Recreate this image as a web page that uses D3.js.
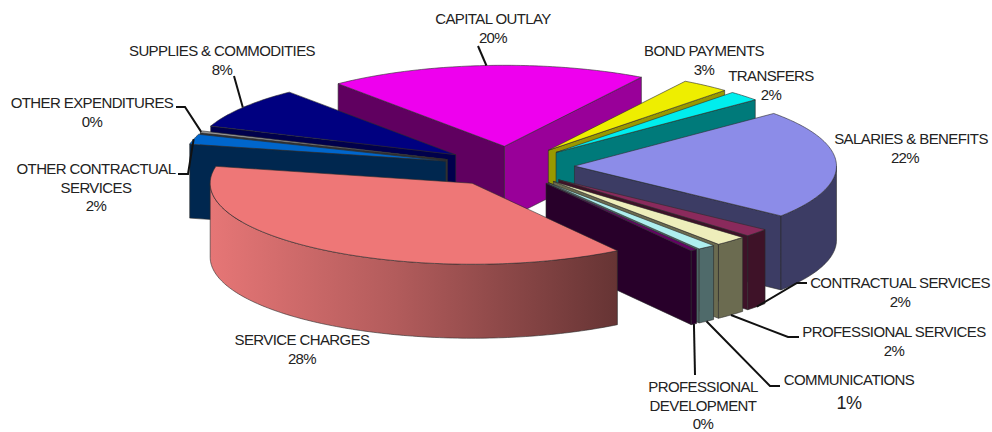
<!DOCTYPE html>
<html>
<head>
<meta charset="utf-8">
<title>Expenditures by category</title>
<script src="https://cdn.jsdelivr.net/npm/d3@7/dist/d3.min.js"></script>
<style>
  html, body { margin: 0; padding: 0; background: #fff; }
  svg { display: block; }
  text { font-family: "Liberation Sans", Arial, sans-serif; fill: #222; }
</style>
</head>
<body>
<svg id="chart" width="992" height="432"></svg>
<script>
// Budget shares in percent, clockwise from Salaries & Benefits.
const categories = ["SALARIES & BENEFITS", "CONTRACTUAL SERVICES", "PROFESSIONAL SERVICES", "COMMUNICATIONS",
  "PROFESSIONAL DEVELOPMENT", "SERVICE CHARGES", "OTHER CONTRACTUAL SERVICES", "OTHER EXPENDITURES",
  "SUPPLIES & COMMODITIES", "CAPITAL OUTLAY", "BOND PAYMENTS", "TRANSFERS"];
const shares = [21.8, 1.6, 2, 1.1, 0.4, 28, 2, 0.4, 8.3, 19.7, 3, 2];

// The printed shares total about 90%. The rest of the circle has no label of
// its own and is painted as part of the Service Charges wedge.
const unlabelledShare = 9.7;
const unlabelledJoins = "SERVICE CHARGES";

const topColors = ["#8c8ce8", "#8a2a5c", "#eeeebb", "#aeeeee", "#660066", "#ee7777", "#0066cc", "#9a9a9a", "#000080", "#ee00ee", "#eeee00", "#00eeee"];
const wallColors = ["#3c3c64", "#3e1228", "#6b6b50", "#4f6a6a", "#28002a", "#6b3535", "#00274f", "#333333", "#00004c", "#600060", "#6b6b00", "#006060"];
const endWallColors = ["#3c3c64", "#3e1228", "#6b6b50", "#4f6a6a", "#28002a", "#6b3535", "#002850", "#333333", "#00004c", "#990099", "#999900", "#007a7a"];
const serviceWallStops = [["0%", "#e67676"], ["45%", "#b35c5c"], ["100%", "#663434"]];

// Label text blocks: centre x, first baseline, wrapped name, leader path.
const labelLayout = {
  "CAPITAL OUTLAY":             { x: 493, y: 24,  lines: ["CAPITAL OUTLAY"], leader: [[478, 46]] },
  "BOND PAYMENTS":              { x: 704, y: 56,  lines: ["BOND PAYMENTS"] },
  "TRANSFERS":                  { x: 771, y: 81,  lines: ["TRANSFERS"] },
  "SALARIES & BENEFITS":        { x: 911, y: 144, percentX: 905, lines: ["SALARIES & BENEFITS"] },
  "CONTRACTUAL SERVICES":       { x: 900, y: 288, lines: ["CONTRACTUAL SERVICES"], leader: [[807, 283], [797, 283]] },
  "PROFESSIONAL SERVICES":      { x: 894, y: 337, lines: ["PROFESSIONAL SERVICES"], leader: [[799, 337], [788, 337]] },
  "COMMUNICATIONS":             { x: 849, y: 385, lines: ["COMMUNICATIONS"], percentSize: 18, percentGap: 24, leader: [[780, 386], [770, 386]] },
  "PROFESSIONAL DEVELOPMENT":   { x: 703, y: 392, lines: ["PROFESSIONAL", "DEVELOPMENT"], leader: [[695, 375]] },
  "SERVICE CHARGES":            { x: 302, y: 345, lines: ["SERVICE CHARGES"] },
  "OTHER CONTRACTUAL SERVICES": { x: 96,  y: 174, lines: ["OTHER CONTRACTUAL", "SERVICES"], leader: [[178, 174], [188, 174]] },
  "OTHER EXPENDITURES":         { x: 92,  y: 108, lines: ["OTHER EXPENDITURES"], leader: [[176, 107], [185, 107]] },
  "SUPPLIES & COMMODITIES":     { x: 222, y: 56,  lines: ["SUPPLIES & COMMODITIES"], leader: [[234, 76]] }
};

const svg = d3.select("#chart");
const rad = d => d * Math.PI / 180;
const firstAngle = rad(49.5);
const explode = 0.25;

// Ground plane of the tilted disc, in units of the pie radius.
const xScale = d3.scaleLinear().domain([-1, 1]).range([509 - 262, 509 + 262]);
const yScale = d3.scaleLinear().domain([-1, 1]).range([166.5 - 81, 166.5 + 81]);
const depthScale = d3.scaleLinear().domain([0, 1]).range([0, 74]);

const rows = categories.map((name, i) => ({
  name, share: shares[i], top: topColors[i], wall: wallColors[i], endWall: endWallColors[i]
}));
const pieInput = rows.flatMap(r => r.name === unlabelledJoins
  ? [r, { name: null, share: unlabelledShare }] : [r]);

const pie = d3.pie().sort(null).value(d => d.share)
  .startAngle(firstAngle).endAngle(firstAngle + 2 * Math.PI);

// Fold the unlabelled arc into the wedge it belongs to.
const wedges = [];
pie(pieInput).forEach(arc => {
  if (arc.data.name === null) wedges[wedges.length - 1].endAngle = arc.endAngle;
  else wedges.push({ ...arc.data, startAngle: arc.startAngle, endAngle: arc.endAngle });
});
wedges.forEach(w => {
  w.mid = (w.startAngle + w.endAngle) / 2;
  w.labelAngle = w.mid;
  w.offset = d3.pointRadial(w.mid, explode);
});

// Projects a polar position on a wedge to the screen; h is 0 at the top face, 1 at the base.
function project(w, angle, radius, h) {
  const [px, py] = d3.pointRadial(angle, radius);
  return [xScale(px + w.offset[0]), yScale(py + w.offset[1]) + depthScale(h)];
}

function rimPoints(w, from, to, h) {
  const steps = Math.max(2, Math.ceil((to - from) / rad(1)));
  return d3.range(steps + 1).map(i => project(w, from + (to - from) * i / steps, 1, h));
}

const outline = d3.line().curve(d3.curveLinearClosed);

const defs = svg.append("defs");
const pies = svg.append("g").attr("stroke", "#2c2c2c").attr("stroke-width", 0.6).attr("stroke-linejoin", "round");

function face(points, fill) {
  pies.append("path").attr("d", outline(points)).attr("fill", fill);
}

function wallFace(w, angle, fill) {
  face([project(w, angle, 0, 0), project(w, angle, 1, 0), project(w, angle, 1, 1), project(w, angle, 0, 1)], fill);
}

// Far wedges first so nearer ones paint over them.
const drawOrder = wedges.slice().sort((p, q) =>
  d3.ascending(project(p, 0, 0, 0)[1], project(q, 0, 0, 0)[1]));

drawOrder.forEach(w => {
  if (Math.sin(w.startAngle) < 0) wallFace(w, w.startAngle, w.wall);
  if (Math.sin(w.endAngle) > 0) wallFace(w, w.endAngle, w.endWall);

  const from = Math.max(w.startAngle, rad(90));
  const to = Math.min(w.endAngle, rad(270));
  if (to > from) {
    const upper = rimPoints(w, from, to, 0);
    const lower = rimPoints(w, from, to, 1).reverse();
    let fill = w.wall;
    if (w.name === unlabelledJoins) {
      const xs = d3.extent(upper, p => p[0]);
      const grad = defs.append("linearGradient").attr("id", "serviceWall")
        .attr("gradientUnits", "userSpaceOnUse")
        .attr("x1", xs[0]).attr("x2", xs[1]).attr("y1", 0).attr("y2", 0);
      serviceWallStops.forEach(([offset, color]) =>
        grad.append("stop").attr("offset", offset).attr("stop-color", color));
      fill = "url(#serviceWall)";
    }
    face(upper.concat(lower), fill);
  }

  face([project(w, w.startAngle, 0, 0), ...rimPoints(w, w.startAngle, w.endAngle, 0)], w.top);
});

// Leader lines run from the rim of each wedge out to its label.
const leaderLine = d3.line();
const leaders = svg.append("g").attr("fill", "none").attr("stroke", "#111").attr("stroke-width", 2);
wedges.forEach(w => {
  const layout = labelLayout[w.name];
  if (!layout.leader) return;
  const front = Math.cos(w.labelAngle) < 0;
  leaders.append("path").attr("d", leaderLine([...layout.leader, project(w, w.labelAngle, 1, front ? 1 : 0)]));
});

// Name and rounded percentage for every wedge.
const lineGap = 18.5;
wedges.forEach(w => {
  const layout = labelLayout[w.name];
  const text = svg.append("text").attr("text-anchor", "middle")
    .attr("font-size", 15).attr("letter-spacing", -0.6);
  layout.lines.forEach((line, i) => {
    text.append("tspan").attr("x", layout.x).attr("y", layout.y + i * lineGap).text(line);
  });
  const last = layout.y + (layout.lines.length - 1) * lineGap;
  text.append("tspan").attr("x", layout.percentX || layout.x)
    .attr("y", last + (layout.percentGap || lineGap))
    .attr("font-size", layout.percentSize || 15)
    .text(Math.round(w.share) + "%");
});
</script>
</body>
</html>
